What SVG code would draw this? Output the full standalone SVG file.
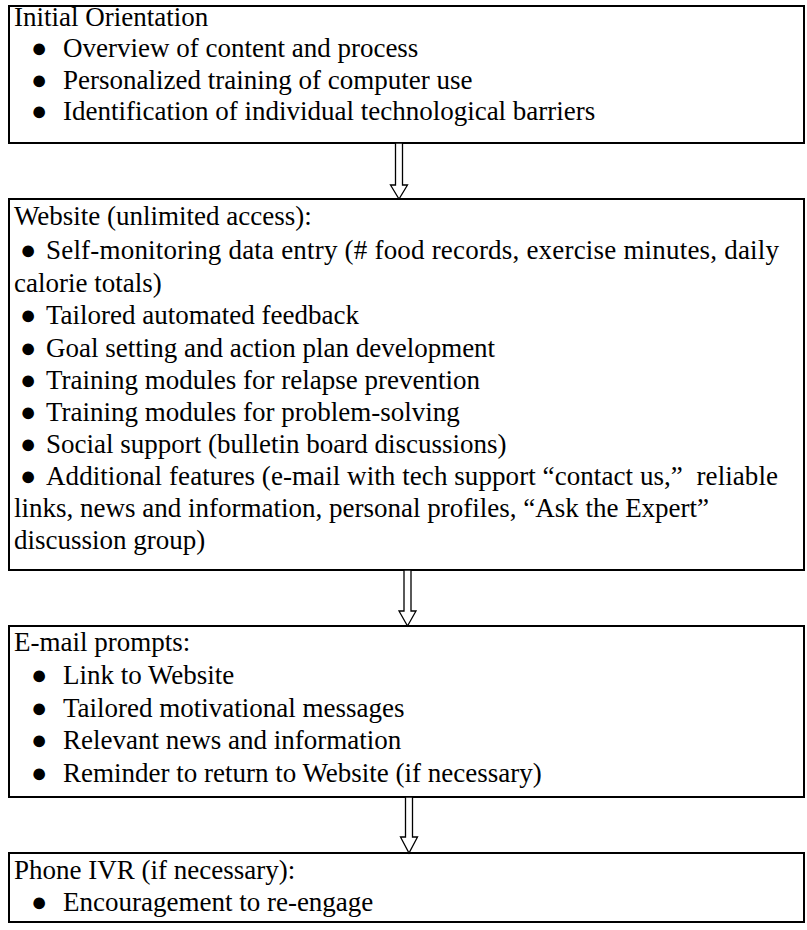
<svg xmlns="http://www.w3.org/2000/svg" width="807" height="930" viewBox="0 0 807 930">
<style>
.box{fill:#fff;stroke:#000;stroke-width:2}
.t{font-family:"Liberation Serif","Times New Roman",serif;font-size:27px;fill:#000}
.arr{fill:#fff;stroke:#000;stroke-width:1.3;stroke-linejoin:miter}
</style>
<rect width="807" height="930" fill="#fff"/>
<g id="node-orientation">
<rect class="box" x="9" y="6" width="795" height="137"/>
<text class="t" x="14" y="26">Initial Orientation</text>
<text class="t" x="31" y="57.3">●</text><text class="t" x="63" y="57.3">Overview of content and process</text>
<text class="t" x="31" y="88.6">●</text><text class="t" x="63" y="88.6">Personalized training of computer use</text>
<text class="t" x="31" y="120">●</text><text class="t" x="63" y="120">Identification of individual technological barriers</text>
</g>
<g id="node-website">
<rect class="box" x="9" y="199" width="795" height="371"/>
<text class="t" x="14" y="225">Website (unlimited access):</text>
<text class="t" x="20" y="259">●</text><text class="t" x="46" y="259" textLength="733" lengthAdjust="spacing">Self-monitoring data entry (# food records, exercise minutes, daily</text>
<text class="t" x="14" y="291.5">calorie totals)</text>
<text class="t" x="20" y="324">●</text><text class="t" x="46" y="324">Tailored automated feedback</text>
<text class="t" x="20" y="356.5">●</text><text class="t" x="46" y="356.5">Goal setting and action plan development</text>
<text class="t" x="20" y="388.5">●</text><text class="t" x="46" y="388.5">Training modules for relapse prevention</text>
<text class="t" x="20" y="420.5">●</text><text class="t" x="46" y="420.5">Training modules for problem-solving</text>
<text class="t" x="20" y="452.5">●</text><text class="t" x="46" y="452.5">Social support (bulletin board discussions)</text>
<text class="t" x="20" y="484.5">●</text><text class="t" x="46" y="484.5" xml:space="preserve" textLength="732" lengthAdjust="spacing">Additional features (e-mail with tech support “contact us,”  reliable</text>
<text class="t" x="14" y="516.8">links, news and information, personal profiles, “Ask the Expert”</text>
<text class="t" x="14" y="549">discussion group)</text>
</g>
<g id="node-email">
<rect class="box" x="9" y="626" width="795" height="171"/>
<text class="t" x="14" y="651">E-mail prompts:</text>
<text class="t" x="31" y="683.75">●</text><text class="t" x="63" y="683.75">Link to Website</text>
<text class="t" x="31" y="716.5">●</text><text class="t" x="63" y="716.5">Tailored motivational messages</text>
<text class="t" x="31" y="749.25">●</text><text class="t" x="63" y="749.25">Relevant news and information</text>
<text class="t" x="31" y="782">●</text><text class="t" x="63" y="782">Reminder to return to Website (if necessary)</text>
</g>
<g id="node-phone">
<rect class="box" x="9" y="853" width="795" height="69"/>
<text class="t" x="14" y="879">Phone IVR (if necessary):</text>
<text class="t" x="31" y="911">●</text><text class="t" x="63" y="911">Encouragement to re-engage</text>
</g>
<g id="connectors">
<path class="arr" d="M395.5,143 L402.5,143 L402.5,185 L407.5,185 L399,199 L390.5,185 L395.5,185 Z"/>
<path class="arr" d="M404,570 L411,570 L411,611 L416,611 L407.5,626 L399,611 L404,611 Z"/>
<path class="arr" d="M405.5,797 L412.5,797 L412.5,837 L417.5,837 L409,853 L400.5,837 L405.5,837 Z"/>
</g>
</svg>
